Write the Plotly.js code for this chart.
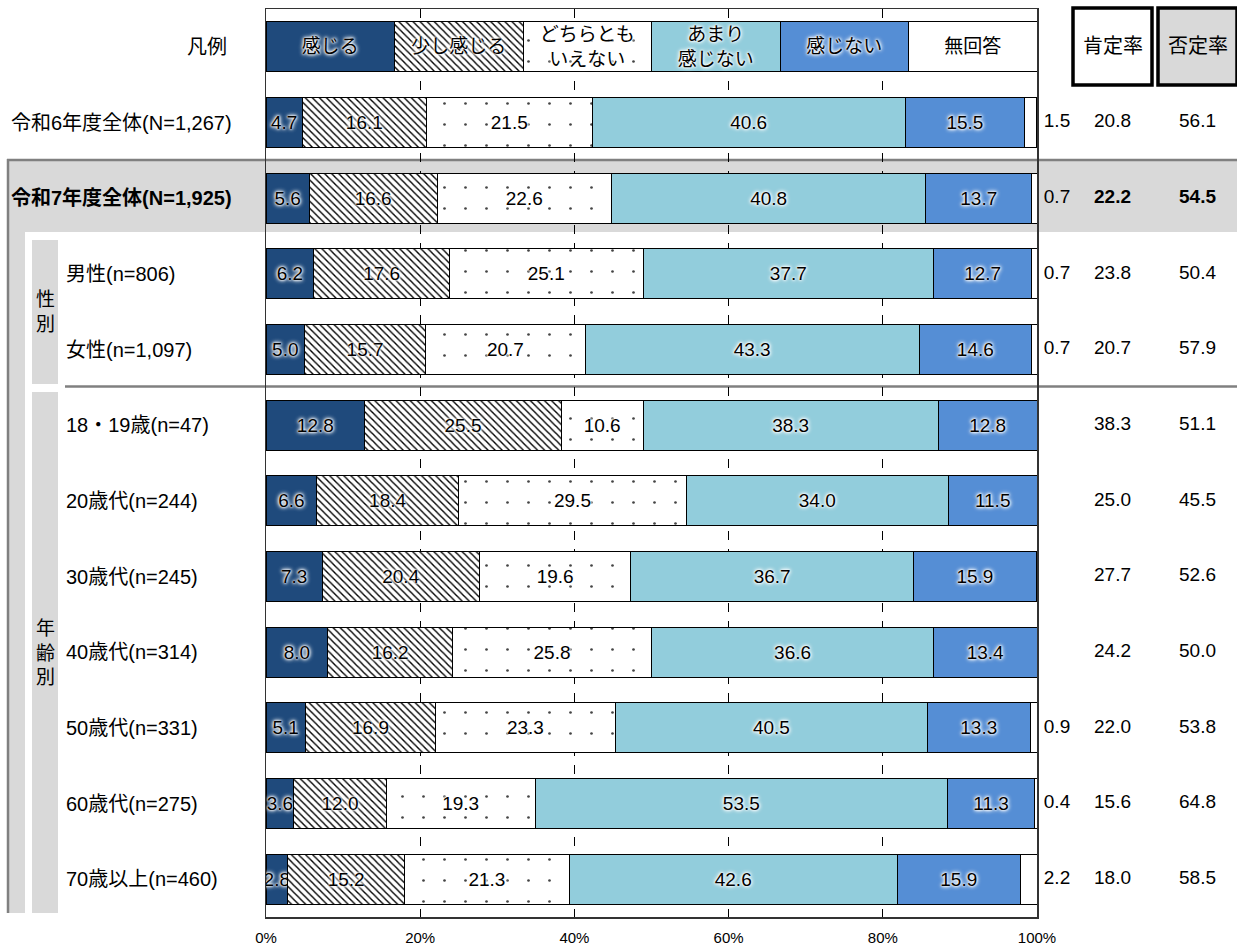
<!DOCTYPE html>
<html><head><meta charset="utf-8">
<script src="https://cdn.plot.ly/plotly-3.0.1.min.js"></script>
<style>html,body{margin:0;padding:0;background:#fff}</style>
</head><body>
<div id="chart" style="width:1237px;height:948px"></div>
<script>
// ---------- data ----------
const legendRowLabel = "凡例";
const rowLabels = [
  "令和6年度全体(N=1,267)",
  "令和7年度全体(N=1,925)",
  "男性(n=806)",
  "女性(n=1,097)",
  "18・19歳(n=47)",
  "20歳代(n=244)",
  "30歳代(n=245)",
  "40歳代(n=314)",
  "50歳代(n=331)",
  "60歳代(n=275)",
  "70歳以上(n=460)"
];
const seriesNames = ["感じる","少し感じる","どちらともいえない","あまり感じない","感じない","無回答"];
const legendTexts = ["感じる","少し感じる","どちらとも<br>いえない","あまり<br>感じない","感じない","無回答"];
const kanjiru        = [4.7, 5.6, 6.2, 5.0, 12.8, 6.6, 7.3, 8.0, 5.1, 3.6, 2.8];
const sukoshiKanjiru = [16.1,16.6,17.6,15.7,25.5,18.4,20.4,16.2,16.9,12.0,15.2];
const dochiraTomo    = [21.5,22.6,25.1,20.7,10.6,29.5,19.6,25.8,23.3,19.3,21.3];
const amariKanjinai  = [40.6,40.8,37.7,43.3,38.3,34.0,36.7,36.6,40.5,53.5,42.6];
const kanjinai       = [15.5,13.7,12.7,14.6,12.8,11.5,15.9,13.4,13.3,11.3,15.9];
const mukaitou       = [1.5, 0.7, 0.7, 0.7, 0,   0,   0,   0,   0.9, 0.4, 2.2];
const positiveRate   = [20.8,22.2,23.8,20.7,38.3,25.0,27.7,24.2,22.0,15.6,18.0];
const negativeRate   = [56.1,54.5,50.4,57.9,51.1,45.5,52.6,50.0,53.8,64.8,58.5];
const xTickVals = [0,20,40,60,80,100];
const xTickText = xTickVals.map(v => v + '%');
const columnHeaders = ["肯定率","否定率"];
const groupLabels = ["性<br>別","年<br>齢<br>別"];
const highlightedRow = "令和7年度全体(N=1,925)";

// ---------- styles ----------
const W = 1237, H = 948, plotTop = 9, plotBottom = 917;
const px2x = p => p / W;
const px2y = p => (plotBottom - p) / (plotBottom - plotTop);
const LATIN = "'Liberation Sans', Arial, 'Noto Sans CJK JP', sans-serif";
const JP = "'Liberation Sans', 'Noto Sans CJK JP', sans-serif";
const glow = "0 0 2px #fff, 0 0 3px #fff, 0 0 4px #fff, 0 0 5px #fff";
const seriesData = [kanjiru, sukoshiKanjiru, dochiraTomo, amariKanjinai, kanjinai, mukaitou];
const seriesMarkers = [
  {color:'#1f4a7c'},
  {color:'#ffffff', pattern:{shape:'\\', fgcolor:'#000', bgcolor:'#fff', size:5, solidity:0.28}},
  {color:'#ffffff', pattern:{shape:'.', fgcolor:'#444', bgcolor:'#fff', size:21, solidity:0.013}},
  {color:'#92cddc'},
  {color:'#558ed5'},
  {color:'#ffffff'}
];

const allRows = [legendRowLabel, ...rowLabels];
const legendShare = 100 / seriesNames.length;
const fmt = v => v.toFixed(1);

const traces = seriesNames.map((name, i) => {
  const vals = seriesData[i];
  const isNoAnswer = (i === seriesNames.length - 1);
  return {
    type:'bar', orientation:'h', name:name,
    x:[legendShare, ...vals],
    y:allRows,
    text:[legendTexts[i], ...vals.map(v => isNoAnswer ? '' : fmt(v))],
    textposition:'inside', insidetextanchor:'middle', textangle:0,
    insidetextfont:{family:JP, size:19, color:'#000', shadow:glow},
    marker:Object.assign({line:{color:'#000', width:1}}, seriesMarkers[i]),
    hoverinfo:'x+y+name'
  };
});

const boldIf = (row, s) => row === highlightedRow ? '<b>' + s + '</b>' : s;
const colTrace = (xa, vals, skipZero) => ({
  type:'scatter', mode:'text', xaxis:xa, yaxis:'y',
  x: rowLabels.map(() => 'c'),
  y: rowLabels,
  text: vals.map((v, k) => (skipZero && v === 0) ? '' : (skipZero ? fmt(v) : boldIf(rowLabels[k], fmt(v)))),
  textposition:'middle center',
  textfont:{family:LATIN, size:19, color:'#000'},
  hoverinfo:'skip'
});
traces.push(colTrace('x2', mukaitou, true));
traces.push(colTrace('x3', positiveRate, false));
traces.push(colTrace('x4', negativeRate, false));

const hiddenAx = d => ({domain:d, anchor:'y', type:'category', showgrid:false, showticklabels:false,
  showline:false, zeroline:false, ticks:'', fixedrange:true});

const shapes = [
  {type:'rect', xref:'paper', yref:'paper', x0:px2x(8), x1:px2x(1240), y0:px2y(160), y1:px2y(232),
    fillcolor:'#d9d9d9', line:{width:0}, layer:'below'},
  {type:'rect', xref:'paper', yref:'paper', x0:px2x(8), x1:px2x(25), y0:px2y(160), y1:px2y(913),
    fillcolor:'#d9d9d9', line:{width:0}, layer:'below'},
  {type:'rect', xref:'paper', yref:'paper', x0:px2x(32), x1:px2x(58), y0:px2y(240), y1:px2y(384),
    fillcolor:'#d9d9d9', line:{width:0}, layer:'below'},
  {type:'rect', xref:'paper', yref:'paper', x0:px2x(32), x1:px2x(58), y0:px2y(392), y1:px2y(913),
    fillcolor:'#d9d9d9', line:{width:0}, layer:'below'},
  {type:'line', xref:'paper', yref:'paper', x0:px2x(8), x1:px2x(8), y0:px2y(159), y1:px2y(913),
    line:{color:'#808080', width:2.5}, layer:'below'},
  {type:'line', xref:'paper', yref:'paper', x0:px2x(7), x1:px2x(1240), y0:px2y(160), y1:px2y(160),
    line:{color:'#808080', width:2.5}, layer:'below'},
  {type:'line', xref:'paper', yref:'paper', x0:px2x(65), x1:px2x(1240), y0:px2y(386.5), y1:px2y(386.5),
    line:{color:'#808080', width:2.5}, layer:'below'},
  {type:'rect', xref:'paper', yref:'paper', x0:px2x(1073), x1:px2x(1152), y0:px2y(8), y1:px2y(85),
    fillcolor:'#ffffff', line:{color:'#000', width:3.5}},
  {type:'rect', xref:'paper', yref:'paper', x0:px2x(1158), x1:px2x(1237), y0:px2y(8), y1:px2y(85),
    fillcolor:'#d9d9d9', line:{color:'#000', width:3.5}}
];

const labelFont = {family:JP, size:20, color:'#000'};
const annotations = [];
annotations.push({xref:'paper', yref:'y', x:px2x(229), y:legendRowLabel, xanchor:'right', yanchor:'middle',
  text:legendRowLabel, showarrow:false, font:labelFont});
rowLabels.forEach((r, k) => {
  const isSub = k >= 2;
  annotations.push({xref:'paper', yref:'y', x: isSub ? px2x(64) : px2x(234), y:r,
    xanchor: isSub ? 'left' : 'right', yanchor:'middle',
    text: r === highlightedRow ? '<b>' + r + '</b>' : r,
    showarrow:false, font:labelFont});
});
annotations.push({xref:'paper', yref:'paper', x:px2x(1112.5), y:px2y(46), xanchor:'center', yanchor:'middle',
  text:columnHeaders[0], showarrow:false, font:labelFont});
annotations.push({xref:'paper', yref:'paper', x:px2x(1197.5), y:px2y(46), xanchor:'center', yanchor:'middle',
  text:columnHeaders[1], showarrow:false, font:labelFont});
annotations.push({xref:'paper', yref:'paper', x:px2x(45), y:px2y(312), xanchor:'center', yanchor:'middle',
  text:groupLabels[0], showarrow:false, font:{family:JP, size:19, color:'#000'}});
annotations.push({xref:'paper', yref:'paper', x:px2x(45), y:px2y(653), xanchor:'center', yanchor:'middle',
  text:groupLabels[1], showarrow:false, font:{family:JP, size:19, color:'#000'}});

const layout = {
  width:W, height:H,
  margin:{l:0, r:0, t:plotTop, b:H - plotBottom, pad:0},
  paper_bgcolor:'#ffffff', plot_bgcolor:'rgba(0,0,0,0)',
  barmode:'stack', bargap:0.34, showlegend:false,
  uniformtext:{mode:'show', minsize:19},
  font:{family:JP, color:'#000'},
  xaxis:{domain:[px2x(266), px2x(1037)], range:[0,100], tickmode:'array', tickvals:xTickVals, ticktext:xTickText,
    showgrid:true, griddash:'dash', gridcolor:'#000', gridwidth:1, zeroline:false,
    showline:true, mirror:true, linecolor:'#333', linewidth:1.5, ticks:'', ticklabelstandoff:6,
    tickfont:{family:LATIN, size:15, color:'#000'}, fixedrange:true},
  xaxis2:hiddenAx([px2x(1041), px2x(1073)]),
  xaxis3:hiddenAx([px2x(1073), px2x(1152)]),
  xaxis4:hiddenAx([px2x(1158), px2x(1237)]),
  yaxis:{type:'category', categoryorder:'array', categoryarray:allRows, range:[allRows.length - 0.5, -0.5],
    showticklabels:false, showgrid:false, zeroline:false, showline:true, mirror:true,
    linecolor:'#333', linewidth:1.5, ticks:'', fixedrange:true},
  shapes:shapes,
  annotations:annotations
};

Plotly.newPlot('chart', traces, layout, {displayModeBar:false, staticPlot:true});
</script>
</body></html>
